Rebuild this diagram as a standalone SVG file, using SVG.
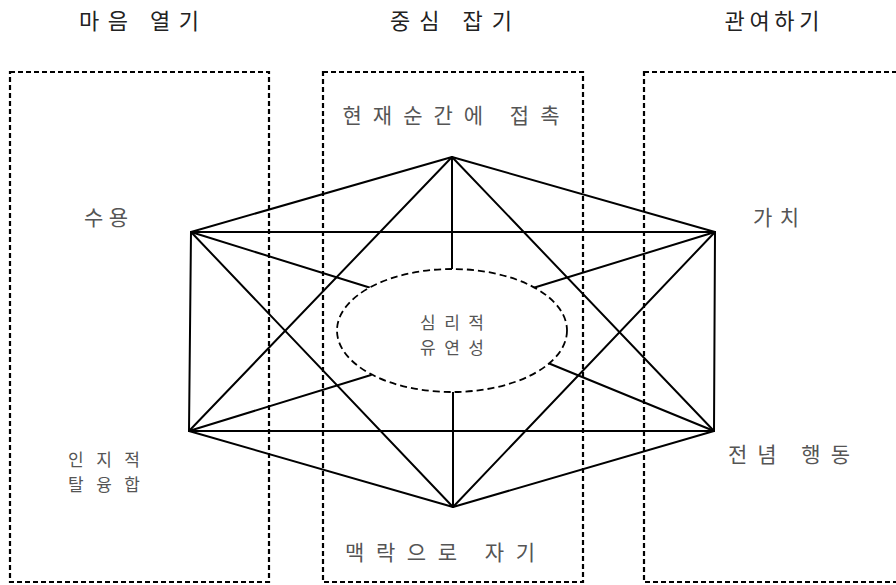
<svg xmlns="http://www.w3.org/2000/svg" width="896" height="585" viewBox="0 0 896 585">
  <style>
    .box { fill: none; stroke: #000; stroke-width: 2.2; stroke-dasharray: 5 3; }
    .title { font-family: "Noto Sans CJK KR", "Noto Sans", sans-serif; font-size: 22px; fill: #222; text-anchor: middle; }
    .lbl { font-family: "Noto Sans CJK KR", "Noto Sans", sans-serif; font-size: 21px; fill: #555; text-anchor: middle; }
    .lbl2 { font-family: "Noto Sans CJK KR", "Noto Sans", sans-serif; font-size: 17px; fill: #555; text-anchor: middle; }
    .edge { stroke: #000; stroke-width: 2; fill: none; stroke-linecap: round; }
    .circ { fill: #fff; stroke: #000; stroke-width: 1.8; stroke-dasharray: 7 4; }
  </style>
  <rect width="896" height="585" fill="#fff"/>

  <g id="col-open">
    <rect class="box" x="10" y="72" width="259" height="510"/>
    <text class="title" x="139" y="29" textLength="120">마음 열기</text>
  </g>
  <g id="col-center">
    <rect class="box" x="323" y="72" width="260" height="510"/>
    <text class="title" x="451" y="29" textLength="122">중심 잡기</text>
  </g>
  <g id="col-engage">
    <rect class="box" x="644" y="72" width="280" height="510"/>
    <text class="title" x="772" y="29" textLength="95">관여하기</text>
  </g>

  <g id="connectors">
    <!-- hexagon -->
    <line class="edge" x1="452" y1="157" x2="191" y2="232"/>
    <line class="edge" x1="452" y1="157" x2="715" y2="232"/>
    <line class="edge" x1="191" y1="232" x2="189" y2="431"/>
    <line class="edge" x1="715" y1="232" x2="714" y2="431"/>
    <line class="edge" x1="189" y1="431" x2="453" y2="507"/>
    <line class="edge" x1="714" y1="431" x2="453" y2="507"/>
    <!-- horizontals -->
    <line class="edge" x1="191" y1="232" x2="715" y2="232"/>
    <line class="edge" x1="189" y1="431" x2="714" y2="431"/>
    <!-- triangles -->
    <line class="edge" x1="452" y1="157" x2="189" y2="431"/>
    <line class="edge" x1="452" y1="157" x2="714" y2="431"/>
    <line class="edge" x1="453" y1="507" x2="191" y2="232"/>
    <line class="edge" x1="453" y1="507" x2="715" y2="232"/>
    <!-- spokes to center -->
    <line class="edge" x1="452" y1="157" x2="452" y2="269"/>
    <line class="edge" x1="453" y1="507" x2="453" y2="392"/>
    <line class="edge" x1="191" y1="232" x2="371" y2="288"/>
    <line class="edge" x1="715" y1="232" x2="533" y2="288"/>
    <line class="edge" x1="189" y1="431" x2="371" y2="375"/>
    <line class="edge" x1="714" y1="431" x2="548" y2="363"/>
  </g>

  <g id="node-flex">
    <ellipse class="circ" cx="452" cy="330.5" rx="115" ry="61.5"/>
    <text class="lbl2" x="452" y="329" textLength="64">심리적</text>
    <text class="lbl2" x="452" y="354" textLength="64">유연성</text>
  </g>
  <g id="node-present">
    <text class="lbl" x="451" y="123" textLength="217">현재순간에 접촉</text>
  </g>
  <g id="node-accept">
    <text class="lbl" x="106" y="225" textLength="44">수용</text>
  </g>
  <g id="node-values">
    <text class="lbl" x="776" y="225" textLength="46">가치</text>
  </g>
  <g id="node-defusion">
    <text class="lbl2" x="104" y="466" textLength="72">인지적</text>
    <text class="lbl2" x="104" y="491" textLength="72">탈융합</text>
  </g>
  <g id="node-commit">
    <text class="lbl" x="789" y="462" textLength="122">전념 행동</text>
  </g>
  <g id="node-context">
    <text class="lbl" x="440" y="560" textLength="190">맥락으로 자기</text>
  </g>
</svg>
